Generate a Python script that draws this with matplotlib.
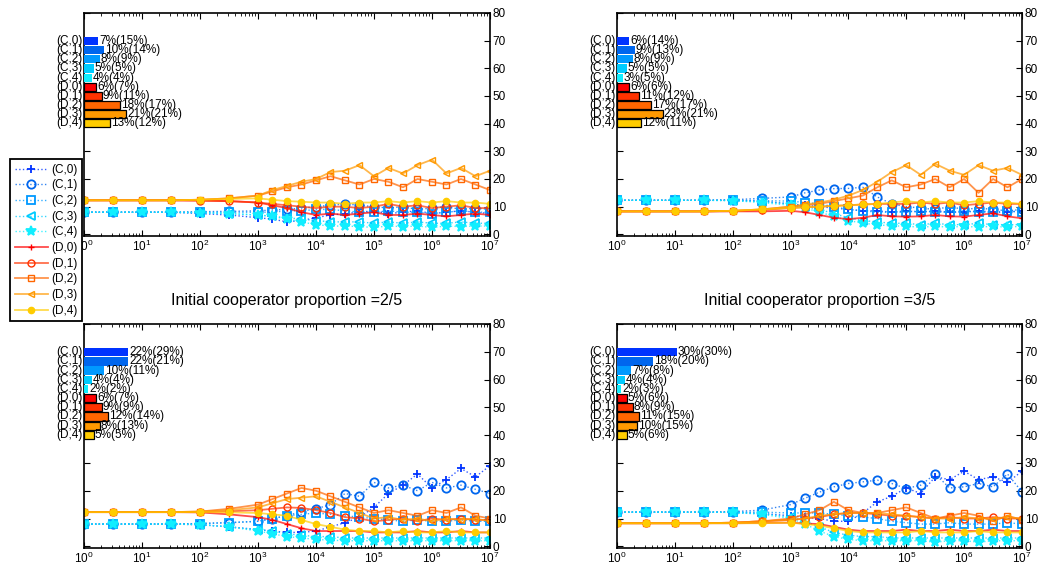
import numpy as np
import matplotlib.pyplot as plt

plt.rcParams['font.family'] = ['Liberation Sans', 'DejaVu Sans']
plt.rcParams['mathtext.default'] = 'regular'
plt.rcParams['font.size'] = 8.5

labels = ['(C,0)', '(C,1)', '(C,2)', '(C,3)', '(C,4)',
          '(D,0)', '(D,1)', '(D,2)', '(D,3)', '(D,4)']
colors = ['#0033ff', '#0066ee', '#0099ff', '#00ccff', '#11eeff',
          '#ff0000', '#ff3300', '#ff6600', '#ff9900', '#ffcc00']
markers = ['+', 'o', 's', '<', '*', '+', 'o', 's', '<', 'o']

# log10 of time step
exps = [0, 0.5, 1, 1.5, 2, 2.5, 3, 3.25, 3.5, 3.75, 4, 4.25, 4.5, 4.75,
        5, 5.25, 5.5, 5.75, 6, 6.25, 6.5, 6.75, 7]

# top left, initial cooperators 2/5
tl_C = [
    [8, 8, 8, 8, 7.5, 7, 6, 5.5, 4.5, 5, 6, 7, 7.5, 8, 8.5, 7.5, 8, 8.5, 7.5, 8, 8.5, 8, 7.5],
    [8, 8, 8, 8, 8.2, 8.3, 8.5, 8.8, 9, 9.5, 10, 10.5, 11, 10.5, 10, 9.5, 10, 9, 9.5, 10, 9, 9.5, 9],
    [8, 8, 8, 8, 8, 8, 8, 8, 8.5, 8.5, 9, 9, 8.5, 8, 8, 8.5, 8, 8, 7.5, 8, 8.5, 8, 8],
    [8, 8, 8, 8, 7.8, 7.5, 7, 6.5, 6, 5.5, 5, 4.5, 4.5, 4.5, 4, 4.5, 4, 4.5, 4, 4, 4.5, 4, 4],
    [8, 8, 8, 8, 7.8, 7.5, 7, 6.5, 5.5, 4.5, 3.5, 3, 3, 2.8, 2.5, 3, 2.8, 3, 2.5, 3, 2.8, 3, 3],
]
tl_D = [
    [12.3, 12.3, 12.3, 12.3, 12.2, 12, 11.5, 10.5, 9.5, 8, 7, 7.5, 7, 7.5, 8, 7, 7, 7.5, 7, 6.5, 7, 7.5, 7],
    [12.3, 12.3, 12.3, 12.3, 12.2, 12, 11.5, 11, 10.5, 10, 9.5, 10, 10, 9.5, 10, 11, 10, 10.5, 9.5, 10, 10.5, 9.5, 9.5],
    [12.3, 12.3, 12.3, 12.3, 12.5, 13, 14, 15.5, 17, 18, 19.5, 21, 19.5, 18, 20, 19, 17, 20, 19, 18, 20, 18, 16],
    [12.3, 12.3, 12.3, 12.3, 12.5, 13, 14, 16, 17.5, 19, 20, 22.5, 23, 25, 21, 24, 22, 25, 27, 22, 24, 21, 23],
    [12.3, 12.3, 12.3, 12.3, 12.5, 12.8, 13, 12.5, 12, 11.8, 11.5, 11.5, 11, 11.5, 11.5, 12, 11.5, 12, 11.5, 12, 11.5, 11.5, 11],
]
tl_bar = [7, 10, 8, 5, 4, 6, 9, 18, 21, 13]
tl_txt = ['7%(15%)', '10%(14%)', '8%(9%)', '5%(5%)', '4%(4%)',
          '6%(7%)', '9%(11%)', '18%(17%)', '21%(21%)', '13%(12%)']

# top right, initial cooperators 3/5
tr_C = [
    [12.3, 12.3, 12.3, 12.3, 12.3, 12, 11, 10.5, 10, 9.5, 9, 8.5, 8.5, 8, 8.5, 8, 8.5, 8, 8, 8.5, 8, 8, 8.5],
    [12.3, 12.3, 12.3, 12.3, 12.5, 13, 13.5, 15, 16, 16.5, 16.6, 17, 13.5, 11, 10, 9.5, 9, 10, 9, 9.5, 9, 8.5, 9],
    [12.3, 12.3, 12.3, 12.3, 12.3, 12.2, 12, 11.5, 11, 10, 9, 8.5, 8, 8, 8, 8.5, 8, 8, 8.5, 8, 8, 8.5, 8],
    [12.3, 12.3, 12.3, 12.3, 12.2, 11.8, 11, 10, 9, 7.5, 6, 5, 4.5, 4, 4, 3.5, 4, 3.5, 3.5, 4, 3.5, 3.5, 3.5],
    [12.3, 12.3, 12.3, 12.3, 12.2, 11.5, 10.5, 9.5, 8, 6.5, 5, 4, 3.5, 3, 3, 2.5, 3, 2.5, 3, 2.5, 3, 2.5, 3],
]
tr_D = [
    [8.3, 8.3, 8.3, 8.3, 8.3, 8.3, 8.5, 8, 7, 6, 5.5, 6, 7, 6.5, 6.4, 6.5, 7, 6.5, 6.4, 7, 7.6, 6.5, 5.8],
    [8.3, 8.3, 8.3, 8.3, 8.4, 8.8, 9.5, 9.8, 10, 10.3, 10.5, 10.8, 11, 11, 11, 11.5, 11, 11.5, 10.5, 11, 11.5, 11, 11],
    [8.3, 8.3, 8.3, 8.3, 8.5, 9, 10, 10.5, 11, 12, 13, 14, 17, 19.5, 17, 18, 20, 17, 20, 15, 20, 17, 20],
    [8.3, 8.3, 8.3, 8.3, 8.5, 9, 10, 10.8, 11.5, 12.5, 14, 16, 19, 22.5, 25, 21.5, 25.5, 23, 21.5, 25, 23, 24, 21.5],
    [8.3, 8.3, 8.3, 8.3, 8.5, 9, 9.5, 9.8, 10, 10.3, 10.5, 10.8, 11, 11.5, 12, 11.5, 12, 11.5, 11.5, 12, 11.5, 11.5, 11],
]
tr_bar = [6, 9, 8, 5, 3, 6, 11, 17, 23, 12]
tr_txt = ['6%(14%)', '9%(13%)', '8%(9%)', '5%(5%)', '3%(5%)',
          '6%(6%)', '11%(12%)', '17%(17%)', '23%(21%)', '12%(11%)']

# bottom left
bl_C = [
    [8, 8, 8, 8, 7.8, 7, 6, 5.5, 5, 5, 5.5, 7, 8.5, 10.5, 14, 19, 22, 26, 21, 24, 28, 25, 29],
    [8, 8, 8, 8, 8.2, 8.5, 9, 10, 11, 12.5, 13.5, 15, 19, 18, 23, 21, 22, 20, 23, 21, 22, 20.5, 19],
    [8, 8, 8, 8, 8.2, 8.5, 9, 10, 11, 11.5, 12, 11.5, 11, 10.5, 10, 9.5, 9, 9.5, 9, 9, 9.5, 9, 9],
    [8, 8, 8, 8, 7.8, 7, 6, 5.5, 4.5, 4, 3.5, 3.5, 3, 3, 3, 3, 3, 3, 3, 3, 3, 3, 3],
    [8, 8, 8, 8, 7.8, 7, 5.5, 4.5, 3.5, 3, 2.5, 2.2, 2, 2, 2, 2, 2, 2, 2, 2, 2, 2, 2],
]
bl_D = [
    [12.3, 12.3, 12.3, 12.3, 12.2, 11.5, 10.5, 9.5, 8, 6.5, 5.5, 5.5, 5.5, 5.5, 5, 5, 5, 5.5, 5, 5, 5.5, 5, 5],
    [12.3, 12.3, 12.3, 12.3, 12.4, 12.6, 13, 13.5, 14, 13.8, 13, 12, 10.5, 10, 9, 9.5, 10, 9, 10, 9.5, 10, 9.5, 9.5],
    [12.3, 12.3, 12.3, 12.3, 12.5, 13.5, 15, 17, 19, 21, 20, 18, 16, 14, 12, 13, 12, 11, 13, 12, 14, 11, 10],
    [12.3, 12.3, 12.3, 12.3, 12.5, 13, 14, 15.5, 17, 17.5, 18, 16, 14, 12, 10, 10.5, 9.5, 10, 9, 10, 9.5, 10, 9],
    [12.3, 12.3, 12.3, 12.3, 12.3, 12.2, 12, 11.5, 11, 9.5, 8, 7, 6, 5.5, 5.5, 5, 5.5, 5, 5, 5.5, 5, 5, 5],
]
bl_bar = [22, 22, 10, 4, 2, 6, 9, 12, 8, 5]
bl_txt = ['22%(29%)', '22%(21%)', '10%(11%)', '4%(4%)', '2%(2%)',
          '6%(7%)', '9%(9%)', '12%(14%)', '8%(13%)', '5%(5%)']

# bottom right
br_C = [
    [12.3, 12.3, 12.3, 12.3, 12.2, 11.8, 11, 10.5, 10, 9, 9, 12, 16, 18, 21, 19, 25, 24, 27, 24, 25, 23, 27],
    [12.3, 12.3, 12.3, 12.3, 12.5, 13, 15, 17.3, 19.5, 21.4, 22.6, 23.2, 23.8, 22.6, 20.8, 22, 26, 21, 21.4, 22.6, 21.4, 26, 19.6],
    [12.3, 12.3, 12.3, 12.3, 12.3, 12.3, 12, 12, 12, 11.5, 11, 10.5, 10, 9, 8.5, 8, 8, 8.5, 8, 8, 8, 8.5, 8],
    [12.3, 12.3, 12.3, 12.3, 12.2, 11.8, 10.5, 9, 7, 5, 4, 3.5, 3.5, 3, 3, 3, 3, 3, 3, 3, 3, 3, 3],
    [12.3, 12.3, 12.3, 12.3, 12.2, 11.5, 10, 8, 5.5, 3.5, 2.5, 2, 2, 2, 2, 2, 1.5, 2, 2, 1.5, 2, 2, 2],
]
br_D = [
    [8.3, 8.3, 8.3, 8.3, 8.3, 8.4, 8.5, 8.2, 8, 7, 6, 5.5, 5.5, 5.5, 6, 5.5, 5.5, 6, 5.5, 5.5, 6, 5.5, 5.5],
    [8.3, 8.3, 8.3, 8.3, 8.5, 9, 9.5, 10, 10.5, 11.5, 12, 12, 11.5, 11, 11, 10.5, 10, 10.5, 10, 10, 10.5, 10, 10],
    [8.3, 8.3, 8.3, 8.3, 8.5, 9, 10, 11.5, 13, 16, 13, 12, 12, 13, 14, 12, 10, 11, 12, 11, 9, 11, 9.5],
    [8.3, 8.3, 8.3, 8.3, 8.5, 9, 9.5, 10, 11, 11.5, 12, 12, 12, 11.5, 11, 10.5, 10, 10, 10.5, 10, 10, 10.5, 10],
    [8.3, 8.3, 8.3, 8.3, 8.3, 8.3, 8.5, 8, 7.5, 6.5, 5.5, 5, 5, 5, 5, 5.5, 5, 5, 5, 5.5, 5, 5, 5],
]
br_bar = [30, 18, 7, 4, 2, 5, 8, 11, 10, 5]
br_txt = ['30%(30%)', '18%(20%)', '7%(8%)', '4%(4%)', '2%(3%)',
          '5%(6%)', '8%(9%)', '11%(15%)', '10%(15%)', '5%(6%)']

t = 10.0 ** np.array(exps)

panels = [
    (tl_C + tl_D, tl_bar, tl_txt, 'Initial cooperator proportion =2/5'),
    (tr_C + tr_D, tr_bar, tr_txt, 'Initial cooperator proportion =3/5'),
    (bl_C + bl_D, bl_bar, bl_txt, None),
    (br_C + br_D, br_bar, br_txt, None),
]
rects = [[0.0808, 0.5874, 0.3908, 0.390],
         [0.5938, 0.5874, 0.3898, 0.390],
         [0.0808, 0.042, 0.3908, 0.3916],
         [0.5938, 0.042, 0.3898, 0.3916]]

fig = plt.figure(figsize=(10.39, 5.72), dpi=100)
axes = []
for rect, (series, bars, txts, xlab) in zip(rects, panels):
    ax = fig.add_axes(rect)
    axes.append(ax)
    for i, y in enumerate(series):
        assert len(y) == len(t)
        c = plt.matplotlib.colors.to_rgba(colors[i])
        if i < 5:
            ax.plot(t, y, linestyle=':', linewidth=1.0, color=c[:3] + (0.8,),
                    marker=markers[i], markersize=6 if i != 4 else 7,
                    mec=colors[i], mfc=colors[i] if i == 4 else 'none',
                    mew=1.3, label=labels[i])
        else:
            ax.plot(t, y, linestyle='-', linewidth=1.3, color=c[:3] + (0.7,),
                    marker=markers[i], markersize=5 if i != 9 else 4.5,
                    mec=colors[i], mfc=colors[i] if i == 9 else 'none',
                    mew=1.0, label=labels[i])
    ax.set_xscale('log')
    ax.set_xlim(1, 1e7)
    ax.set_ylim(-0.6, 80)
    ax.set_xticks([10 ** k for k in range(8)])
    ax.set_xticklabels(['$10^{%d}$' % k for k in range(8)])
    ax.set_yticks(range(0, 81, 10))
    ax.tick_params(which='both', direction='in', top=True, right=True, left=True,
                   labelleft=False, labelright=True, labelsize=8.5, pad=2)
    ax.tick_params(which='major', length=4)
    ax.tick_params(which='minor', length=2)
    for s in ax.spines.values():
        s.set_linewidth(1.2)
    if xlab:
        ax.set_xlabel(xlab, fontsize=11.5, labelpad=28)

    # share bars in the upper left
    bx = ax.inset_axes([0, 0.464, 1, 0.4715])
    bx.set_xlim(0, 203)
    bx.set_ylim(-1, 10.5)
    bx.axis('off')
    ypos = np.arange(9, -1, -1)
    for i in range(10):
        bx.barh(ypos[i], bars[i], height=0.9, color=colors[i],
                edgecolor='black' if i >= 5 else 'none', linewidth=0.9)
        bx.text(-0.8, ypos[i], labels[i], ha='right', va='center',
                fontsize=8.5, clip_on=False)
        bx.text(bars[i] + 0.5, ypos[i], txts[i], ha='left', va='center',
                fontsize=8.5, clip_on=False)

h, l = axes[0].get_legend_handles_labels()
fig.legend(h, l, loc='upper left', bbox_to_anchor=(0.0096, 0.722),
           fontsize=8.5, frameon=True, fancybox=False, edgecolor='black',
           framealpha=1, handlelength=2.8, handletextpad=0.3,
           labelspacing=0.31, borderpad=0.4, borderaxespad=0)
fig.legends[0].get_frame().set_linewidth(1.3)

plt.savefig('out.png', dpi=100)
